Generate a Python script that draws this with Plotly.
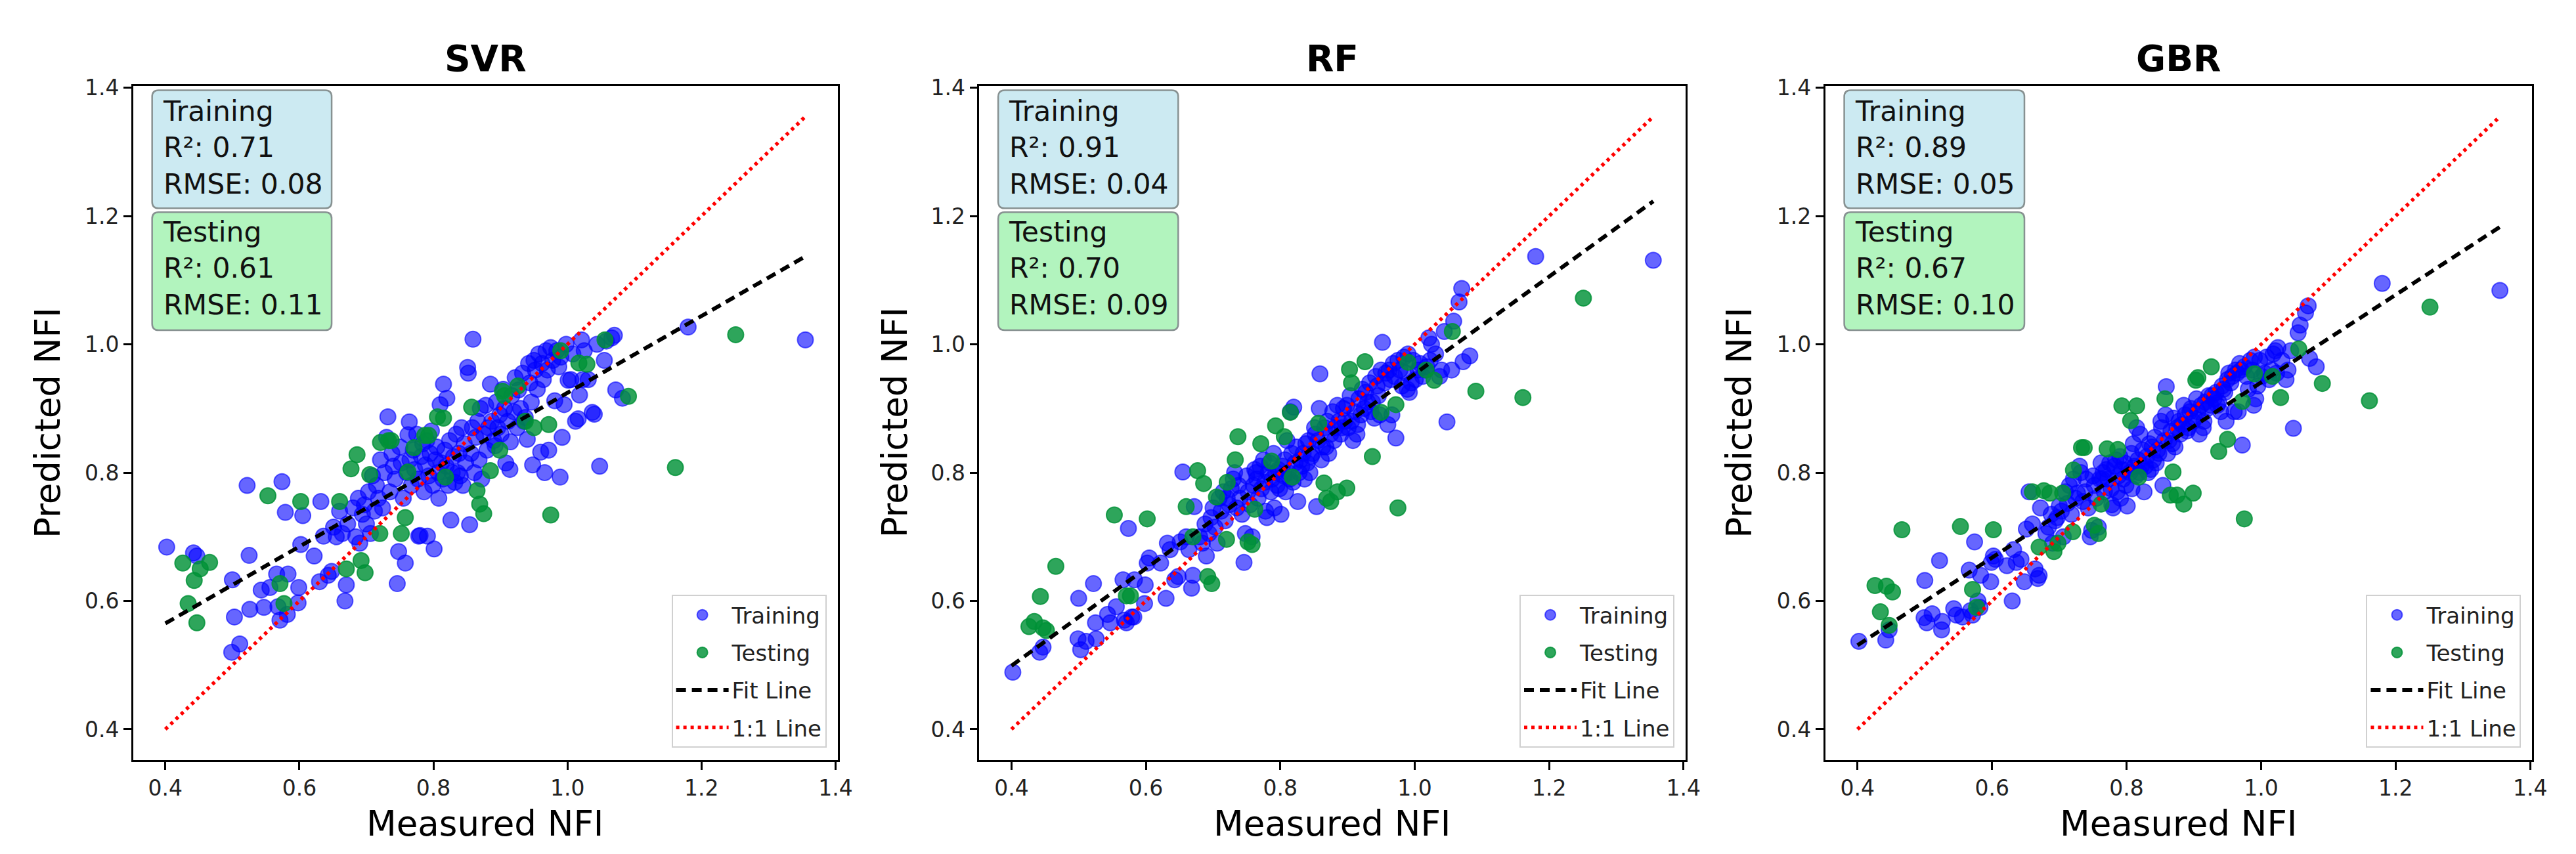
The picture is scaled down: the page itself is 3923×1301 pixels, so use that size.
import plotly.graph_objects as go

# ---------------- data ----------------
models = ["SVR", "RF", "GBR"]

measured_train = [
    0.402, 0.442, 0.447, 0.499, 0.500, 0.503, 0.511, 0.522, 0.525, 0.526,
    0.543, 0.547, 0.556, 0.566, 0.568, 0.571, 0.574, 0.579, 0.582, 0.583,
    0.598, 0.599, 0.602, 0.605, 0.622, 0.630, 0.632, 0.636, 0.643, 0.648,
    0.651, 0.655, 0.660, 0.664, 0.668, 0.670, 0.672,
    0.680, 0.684, 0.688, 0.690, 0.694, 0.697, 0.700, 0.703, 0.706, 0.709,
    0.712, 0.715, 0.718, 0.721, 0.724, 0.727, 0.730, 0.732, 0.735, 0.738,
    0.740, 0.743, 0.746, 0.748, 0.750, 0.752, 0.755, 0.758, 0.760, 0.762,
    0.764, 0.765, 0.767, 0.770, 0.772, 0.775, 0.777, 0.778, 0.780, 0.782,
    0.784, 0.786, 0.788, 0.790, 0.791, 0.793, 0.795, 0.797, 0.799, 0.801,
    0.803, 0.805, 0.807, 0.808, 0.810, 0.812, 0.814, 0.815, 0.817, 0.819,
    0.820, 0.822, 0.824, 0.826, 0.828, 0.830, 0.832, 0.834, 0.836, 0.838,
    0.840, 0.842, 0.844, 0.846, 0.848, 0.851, 0.852, 0.854, 0.856, 0.858,
    0.859, 0.861, 0.863, 0.866, 0.868, 0.870, 0.872, 0.875, 0.878, 0.880,
    0.882, 0.885, 0.887, 0.890, 0.892, 0.894, 0.896, 0.899, 0.901, 0.904,
    0.906, 0.908, 0.911, 0.914, 0.915, 0.917, 0.920, 0.922, 0.925, 0.927,
    0.930, 0.933, 0.935, 0.937, 0.940, 0.942, 0.944, 0.946, 0.948, 0.950,
    0.952, 0.955, 0.957, 0.960, 0.962, 0.964, 0.966, 0.968, 0.970, 0.972,
    0.975, 0.978, 0.981, 0.984, 0.987, 0.989, 0.990, 0.992, 0.995, 0.998,
    1.001, 1.005, 1.008, 1.012, 1.016, 1.018, 1.021, 1.023, 1.025, 1.031,
    1.037, 1.040, 1.044, 1.048, 1.055, 1.058, 1.066, 1.070, 1.072, 1.082,
    1.180, 1.355,
]

svr_train_pred = [
    0.684, 0.675, 0.670, 0.520, 0.633, 0.575, 0.533, 0.780, 0.671, 0.587,
    0.617, 0.590, 0.621, 0.642, 0.591, 0.570, 0.786, 0.738, 0.579, 0.642,
    0.597, 0.621, 0.688, 0.733, 0.670, 0.630, 0.755, 0.701, 0.640, 0.646,
    0.715, 0.700, 0.740, 0.705, 0.600, 0.625, 0.720,
    0.745, 0.700, 0.760, 0.690, 0.735, 0.750, 0.720, 0.770, 0.705, 0.795,
    0.740, 0.780, 0.760, 0.820, 0.745, 0.800, 0.855, 0.887, 0.770, 0.830,
    0.810, 0.790, 0.627, 0.677, 0.840, 0.815, 0.760, 0.659, 0.800, 0.859,
    0.879, 0.820, 0.780, 0.835, 0.805, 0.860, 0.790, 0.701, 0.702, 0.825,
    0.845, 0.770, 0.812, 0.850, 0.701, 0.795, 0.830, 0.865, 0.780, 0.681,
    0.820, 0.840, 0.800, 0.760, 0.906, 0.815, 0.790, 0.938, 0.835, 0.810,
    0.916, 0.780, 0.850, 0.726, 0.800, 0.825, 0.785, 0.860, 0.800, 0.830,
    0.795, 0.870, 0.780, 0.845, 0.815, 0.964, 0.955, 0.719, 0.830, 0.870,
    1.008, 0.800, 0.855, 0.880, 0.820, 0.900, 0.790, 0.860, 0.905, 0.835,
    0.870, 0.938, 0.880, 0.850, 0.842, 0.910, 0.870, 0.890, 0.860, 0.930,
    0.900, 0.815, 0.880, 0.805, 0.848, 0.920, 0.895, 0.948, 0.870, 0.929,
    0.900, 0.955, 0.880, 0.886, 0.852, 0.970, 0.940, 0.910, 0.812, 0.975,
    0.960, 0.930, 0.985, 0.832, 0.970, 0.945, 0.800, 0.990, 0.960, 0.835,
    0.995, 0.975, 0.912, 0.990, 0.965, 0.793, 0.980, 0.855, 0.906, 1.000,
    0.944, 0.945, 0.985, 0.880, 0.884, 0.921, 1.007, 0.945, 0.990, 0.945,
    0.894, 0.891, 1.000, 0.810, 0.975, 1.005, 1.010, 1.014, 0.929, 0.916,
    1.027, 1.007,
]

rf_train_pred = [
    0.489, 0.520, 0.528, 0.541, 0.604, 0.524, 0.537, 0.627, 0.566, 0.541,
    0.579, 0.566, 0.591, 0.633, 0.570, 0.566, 0.713, 0.575, 0.575, 0.633,
    0.596, 0.625, 0.659, 0.667, 0.659, 0.604, 0.690, 0.680, 0.633, 0.638,
    0.692, 0.801, 0.700, 0.680, 0.620, 0.640, 0.747,
    0.700, 0.690, 0.720, 0.670, 0.705, 0.730, 0.745, 0.715, 0.690, 0.760,
    0.740, 0.770, 0.725, 0.760, 0.750, 0.775, 0.790, 0.800, 0.745, 0.780,
    0.760, 0.735, 0.660, 0.705, 0.795, 0.770, 0.750, 0.700, 0.780, 0.805,
    0.800, 0.790, 0.760, 0.810, 0.775, 0.820, 0.785, 0.740, 0.730, 0.800,
    0.815, 0.770, 0.790, 0.830, 0.745, 0.800, 0.780, 0.805, 0.775, 0.735,
    0.810, 0.795, 0.820, 0.770, 0.850, 0.800, 0.790, 0.895, 0.830, 0.785,
    0.902, 0.815, 0.840, 0.755, 0.800, 0.820, 0.810, 0.830, 0.790, 0.845,
    0.815, 0.850, 0.800, 0.825, 0.830, 0.870, 0.860, 0.747, 0.850, 0.900,
    0.954, 0.820, 0.840, 0.870, 0.840, 0.880, 0.830, 0.860, 0.895, 0.850,
    0.870, 0.905, 0.880, 0.860, 0.870, 0.900, 0.880, 0.905, 0.870, 0.920,
    0.880, 0.850, 0.895, 0.860, 0.875, 0.915, 0.890, 0.930, 0.900, 0.925,
    0.910, 0.940, 0.895, 0.910, 0.885, 0.950, 0.935, 0.920, 0.890, 0.960,
    1.003, 0.940, 0.955, 0.875, 0.960, 0.945, 0.890, 0.970, 0.950, 0.854,
    0.975, 0.960, 0.935, 0.980, 0.955, 0.930, 0.985, 0.925, 0.940, 0.975,
    0.945, 0.960, 0.970, 0.950, 0.960, 0.965, 1.010, 0.975, 1.000, 0.985,
    0.950, 0.960, 1.020, 0.879, 0.960, 1.036, 1.066, 1.087, 0.973, 0.982,
    1.137, 1.131,
]

gbr_train_pred = [
    0.537, 0.539, 0.555, 0.574, 0.632, 0.566, 0.580, 0.663, 0.555, 0.568,
    0.588, 0.578, 0.575, 0.648, 0.585, 0.578, 0.692, 0.600, 0.590, 0.640,
    0.630, 0.660, 0.670, 0.665, 0.655, 0.600, 0.680, 0.660, 0.665, 0.630,
    0.712, 0.770, 0.720, 0.650, 0.635, 0.640, 0.745,
    0.705, 0.715, 0.735, 0.690, 0.725, 0.730, 0.748, 0.740, 0.700, 0.770,
    0.752, 0.780, 0.735, 0.790, 0.760, 0.768, 0.810, 0.800, 0.755, 0.770,
    0.790, 0.745, 0.700, 0.710, 0.795, 0.780, 0.760, 0.715, 0.790, 0.815,
    0.790, 0.800, 0.770, 0.805, 0.790, 0.815, 0.775, 0.750, 0.745, 0.810,
    0.820, 0.770, 0.795, 0.825, 0.760, 0.805, 0.790, 0.815, 0.780, 0.748,
    0.805, 0.800, 0.830, 0.775, 0.845, 0.810, 0.795, 0.870, 0.820, 0.800,
    0.860, 0.810, 0.835, 0.770, 0.810, 0.825, 0.800, 0.845, 0.805, 0.840,
    0.820, 0.855, 0.815, 0.835, 0.830, 0.880, 0.870, 0.780, 0.850, 0.890,
    0.934, 0.830, 0.850, 0.865, 0.845, 0.885, 0.840, 0.870, 0.880, 0.860,
    0.875, 0.905, 0.890, 0.865, 0.870, 0.895, 0.900, 0.880, 0.885, 0.915,
    0.895, 0.860, 0.905, 0.870, 0.880, 0.910, 0.900, 0.920, 0.905, 0.920,
    0.915, 0.925, 0.905, 0.910, 0.895, 0.935, 0.930, 0.925, 0.880, 0.945,
    0.955, 0.940, 0.950, 0.895, 0.960, 0.955, 0.895, 0.970, 0.960, 0.843,
    0.965, 0.950, 0.930, 0.975, 0.960, 0.905, 0.980, 0.915, 0.935, 0.975,
    0.950, 0.955, 0.980, 0.945, 0.960, 0.985, 0.990, 0.955, 0.995, 0.975,
    0.945, 0.960, 0.990, 0.869, 1.018, 1.030, 1.049, 1.060, 0.978, 0.965,
    1.095, 1.084,
]

measured_test = [
    0.426, 0.434, 0.443, 0.447, 0.452, 0.466, 0.553, 0.571, 0.577, 0.602,
    0.660, 0.670, 0.677, 0.686, 0.692, 0.698, 0.705, 0.720, 0.721, 0.733,
    0.737, 0.752, 0.758, 0.762, 0.771, 0.787, 0.793, 0.806, 0.815, 0.818,
    0.857, 0.865, 0.869, 0.875, 0.885, 0.899, 0.903, 0.906, 0.926, 0.937,
    0.950, 0.972, 0.975, 0.990, 1.017, 1.029, 1.056, 1.091, 1.161, 1.251,
]

svr_test_pred = [
    0.659, 0.596, 0.632, 0.566, 0.650, 0.660, 0.764, 0.627, 0.596, 0.755,
    0.755, 0.650, 0.806, 0.828, 0.663, 0.644, 0.797, 0.705, 0.847, 0.850,
    0.850, 0.705, 0.730, 0.801, 0.839, 0.858, 0.858, 0.887, 0.885, 0.793,
    0.902, 0.772, 0.751, 0.736, 0.803, 0.835, 0.927, 0.920, 0.935, 0.880,
    0.870, 0.875, 0.734, 0.990, 0.971, 0.969, 1.007, 0.919, 0.808, 1.015,
]

rf_test_pred = [
    0.560, 0.568, 0.607, 0.558, 0.554, 0.654, 0.734, 0.608, 0.608, 0.728,
    0.747, 0.700, 0.803, 0.783, 0.638, 0.627, 0.762, 0.696, 0.785, 0.820,
    0.856, 0.692, 0.688, 0.743, 0.845, 0.818, 0.873, 0.856, 0.894, 0.793,
    0.877, 0.784, 0.760, 0.755, 0.770, 0.776, 0.961, 0.940, 0.973, 0.825,
    0.894, 0.906, 0.745, 0.972, 0.960, 0.944, 1.020, 0.927, 0.917, 1.072,
]

gbr_test_pred = [
    0.624, 0.583, 0.623, 0.562, 0.614, 0.711, 0.716, 0.618, 0.590, 0.711,
    0.770, 0.684, 0.772, 0.768, 0.677, 0.690, 0.768, 0.708, 0.804, 0.839,
    0.839, 0.718, 0.705, 0.751, 0.837, 0.836, 0.904, 0.881, 0.904, 0.793,
    0.915, 0.765, 0.801, 0.765, 0.751, 0.768, 0.944, 0.948, 0.965, 0.833,
    0.852, 0.911, 0.728, 0.954, 0.950, 0.917, 0.993, 0.939, 0.912, 1.058,
]

# fit line end points and 1:1 line
fit_line_x = [0.400, 1.355]
svr_fit_y = [0.565, 1.137]
rf_fit_y = [0.499, 1.223]
gbr_fit_y = [0.531, 1.183]
one_to_one_x = [0.400, 1.355]
one_to_one_y = [0.400, 1.355]

train_r2 = [0.71, 0.91, 0.89]
train_rmse = [0.08, 0.04, 0.05]
test_r2 = [0.61, 0.70, 0.67]
test_rmse = [0.11, 0.09, 0.10]

tick_vals = [0.4, 0.6, 0.8, 1.0, 1.2, 1.4]
tick_text = ["0.4", "0.6", "0.8", "1.0", "1.2", "1.4"]
axis_range = [0.352, 1.403]

train_preds = [svr_train_pred, rf_train_pred, gbr_train_pred]
test_preds = [svr_test_pred, rf_test_pred, gbr_test_pred]
fit_ys = [svr_fit_y, rf_fit_y, gbr_fit_y]

# ---------------- layout geometry ----------------
W, H = 3923, 1301
FONT = "DejaVu Sans"
x_domains = [[196 / W, 1275 / W], [1492 / W, 2574 / W], [2788 / W, 3871 / W]]
y_domain = [1 - 1148 / H, 1 - 108 / H]
ylab_x = [65 / W, 1362 / W, 2656 / W]
legend_right = [1258 / W, 2557 / W, 3854 / W]

BLUE = "rgba(0,0,255,0.6)"
GREEN = "rgba(0,145,55,0.82)"

fig = go.Figure()
layout = dict(
    width=W, height=H,
    margin=dict(l=0, r=0, t=0, b=0),
    paper_bgcolor="white", plot_bgcolor="white",
    font=dict(family=FONT, color="black"),
    showlegend=True,
)
annotations = []
shapes = []


def rounded_box(xref, yref, x0, x1, y0, y1, rx, ry, fill, line):
    path = (f"M {x0 + rx},{y1} L {x1 - rx},{y1} Q {x1},{y1} {x1},{y1 - ry} "
            f"L {x1},{y0 + ry} Q {x1},{y0} {x1 - rx},{y0} "
            f"L {x0 + rx},{y0} Q {x0},{y0} {x0},{y0 + ry} "
            f"L {x0},{y1 - ry} Q {x0},{y1} {x0 + rx},{y1} Z")
    return dict(type="path", path=path, xref=xref, yref=yref,
                fillcolor=fill, line=dict(color=line, width=2.5), layer="above")


for i, name in enumerate(models):
    sfx = "" if i == 0 else str(i + 1)
    xa, ya = "x" + sfx, "y" + sfx
    leg = "legend" + sfx
    common = dict(xaxis=xa, yaxis=ya, legend=leg)

    fig.add_trace(go.Scatter(
        x=measured_train, y=train_preds[i], mode="markers", name="Training",
        legendgroup=f"tr{i}",
        marker=dict(size=24, color=BLUE, line=dict(width=2, color=BLUE)),
        **common))
    fig.add_trace(go.Scatter(
        x=measured_test, y=test_preds[i], mode="markers", name="Testing",
        legendgroup=f"te{i}",
        marker=dict(size=24, color=GREEN, line=dict(width=2, color=GREEN)),
        **common))
    fig.add_trace(go.Scatter(
        x=fit_line_x, y=fit_ys[i], mode="lines", name="Fit Line",
        legendgroup=f"fit{i}",
        line=dict(color="black", width=6, dash="15px,9px"), **common))
    fig.add_trace(go.Scatter(
        x=one_to_one_x, y=one_to_one_y, mode="lines", name="1:1 Line",
        legendgroup=f"one{i}",
        line=dict(color="red", width=5.5, dash="5px,6px"), **common))

    axis_common = dict(
        range=axis_range, tickvals=tick_vals, ticktext=tick_text,
        showline=True, mirror=True, linecolor="black", linewidth=2.5,
        ticks="outside", ticklen=12, tickwidth=2.5, tickcolor="black",
        showgrid=False, zeroline=False,
        tickfont=dict(family=FONT, size=33, color="#222222"),
    )
    layout["xaxis" + sfx] = dict(domain=x_domains[i], anchor=ya, **axis_common)
    layout["yaxis" + sfx] = dict(domain=y_domain, anchor=xa, **axis_common)

    layout[leg] = dict(
        x=legend_right[i], y=1 - 1129 / H, xanchor="right", yanchor="bottom",
        bgcolor="rgba(255,255,255,0.85)", bordercolor="#d0d0d0", borderwidth=2,
        font=dict(family=FONT, size=34, color="#222222"),
        traceorder="grouped", tracegroupgap=10, itemwidth=80,
        itemsizing="trace",
    )

    xc = (x_domains[i][0] + x_domains[i][1]) / 2
    annotations.append(dict(text=f"<b>{name}</b>", x=xc, y=1 - 66 / H,
                            xref="paper", yref="paper", showarrow=False,
                            xanchor="center", yanchor="middle",
                            font=dict(family=FONT, size=55, color="black")))
    annotations.append(dict(text="Measured NFI", x=xc, y=1 - 1246 / H,
                            xref="paper", yref="paper", showarrow=False,
                            xanchor="center", yanchor="middle",
                            font=dict(family=FONT, size=53, color="black")))
    annotations.append(dict(text="Predicted NFI", x=ylab_x[i],
                            y=(y_domain[0] + y_domain[1]) / 2,
                            xref="paper", yref="paper", showarrow=False,
                            textangle=-90, xanchor="center", yanchor="middle",
                            font=dict(family=FONT, size=53, color="black")))

    dxr = f"{xa} domain"
    dyr = f"{ya} domain"
    shapes.append(rounded_box(dxr, dyr, 29 / 1079, 304 / 1079,
                              1 - 189 / 1040, 1 - 7 / 1040,
                              10 / 1079, 10 / 1040,
                              "rgb(204,234,242)", "rgb(135,145,145)"))
    shapes.append(rounded_box(dxr, dyr, 29 / 1079, 304 / 1079,
                              1 - 377 / 1040, 1 - 195 / 1040,
                              10 / 1079, 10 / 1040,
                              "rgb(178,244,190)", "rgb(135,145,145)"))
    annotations.append(dict(
        text=f"Training<br>R²: {train_r2[i]:.2f}<br>RMSE: {train_rmse[i]:.2f}",
        x=43 / 1079, y=1 - 96 / 1040, xref=dxr, yref=dyr, showarrow=False,
        xanchor="left", yanchor="middle", align="left",
        font=dict(family=FONT, size=42.5, color="#111111")))
    annotations.append(dict(
        text=f"Testing<br>R²: {test_r2[i]:.2f}<br>RMSE: {test_rmse[i]:.2f}",
        x=43 / 1079, y=1 - 282 / 1040, xref=dxr, yref=dyr, showarrow=False,
        xanchor="left", yanchor="middle", align="left",
        font=dict(family=FONT, size=42.5, color="#111111")))

layout["annotations"] = annotations
layout["shapes"] = shapes
fig.update_layout(**layout)
fig.write_html("out.html")
